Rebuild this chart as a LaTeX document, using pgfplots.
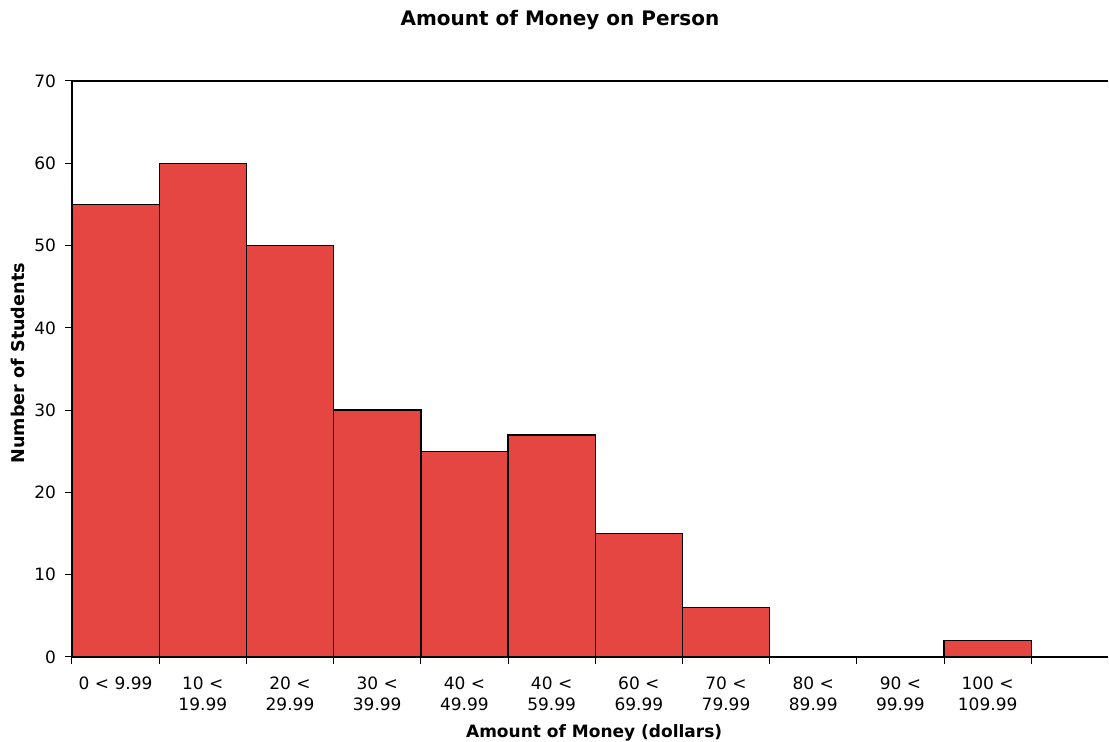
\documentclass[border=0pt]{standalone}
\usepackage{pgfplots}
\pgfplotsset{compat=1.18}
\usepackage{fontspec}
\setmainfont{DejaVu Sans}
\definecolor{barred}{RGB}{230,70,65}
\begin{document}
\begin{tikzpicture}
\begin{axis}[
  scale only axis,
  width=518pt, height=288pt,
  at={(0,0)}, anchor=south west,
  xmin=0, xmax=11.88, ymin=0, ymax=70,
  axis x line=box, axis y line=left,
  axis line style={-, line width=0.65pt},
  xtick={0,...,11},
  x tick label as interval,
  xticklabels={{0 < 9.99},{10 <\\19.99},{20 <\\29.99},{30 <\\39.99},{40 <\\49.99},{40 <\\59.99},{60 <\\69.99},{70 <\\79.99},{80 <\\89.99},{90 <\\99.99},{100 <\\109.99}},
  xticklabel style={align=center, font=\fontsize{8.5}{10.5}\selectfont, anchor=north, yshift=-3pt},
  ytick={0,10,...,70},
  yticklabel style={font=\fontsize{8.5}{10}\selectfont, xshift=-1pt},
  tick align=outside,
  xtick pos=bottom, ytick pos=left,
  major tick length=3.5pt,
  tick style={black, line width=0.5pt},
  /pgf/number format/assume math mode=true,
  title={\bfseries Amount of Money on Person},
  title style={at={(axis description cs:0.471,1.085)}, anchor=center, font=\fontsize{10}{12}\selectfont},
  xlabel={\bfseries Amount of Money (dollars)},
  xlabel style={at={(axis description cs:0.504,-0.132)}, anchor=center, font=\fontsize{8.5}{10}\selectfont},
  ylabel={\bfseries Number of Students},
  ylabel style={at={(axis description cs:-0.052,0.51)}, anchor=center, rotate=0, font=\fontsize{8.8}{10}\selectfont},
]
\addplot[ybar interval, fill=barred, draw=black, line width=0.7pt] coordinates {
(0,55) (1,60) (2,50) (3,30) (4,25) (5,27) (6,15) (7,6) (8,0) (9,0) (10,2) (11,0)
};
\end{axis}
\pgfresetboundingbox
\path (-36pt,-42.5pt) rectangle (518.5pt,328.5pt);
\end{tikzpicture}
\end{document}
